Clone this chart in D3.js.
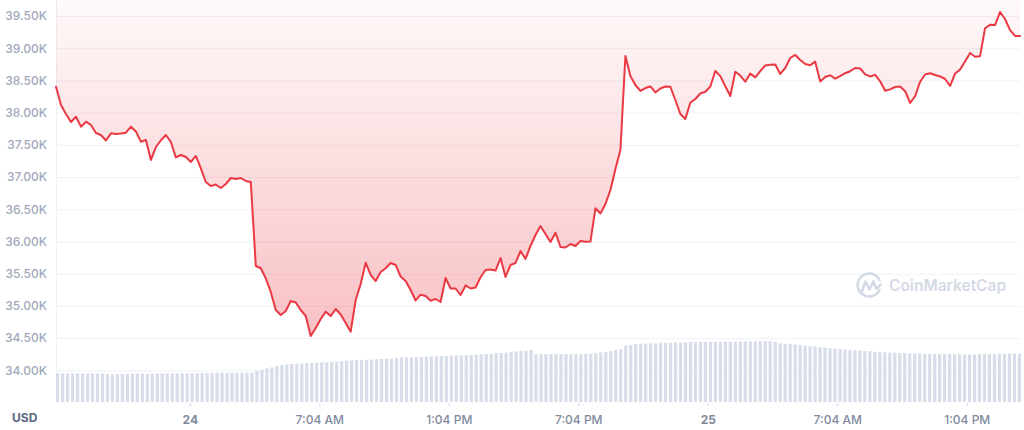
<!DOCTYPE html>
<html>
<head>
<meta charset="utf-8">
<script src="https://cdn.jsdelivr.net/npm/d3@7"></script>
<style>
  html, body { margin: 0; padding: 0; background: #ffffff; }
  svg { display: block; font-family: Inter, "Noto Sans", sans-serif; }
</style>
</head>
<body>
<svg id="chart" width="1024" height="430"></svg>
<script>
// ---- data ----
const startTime = "2022-01-23T18:52:00Z";
const endTime = "2022-01-25T15:32:00Z";

const prices = [
  38402, 38118, 37979, 37855, 37937, 37782, 37859, 37808, 37684, 37653,
  37567, 37679, 37668, 37676, 37689, 37782, 37707, 37549, 37575, 37265,
  37466, 37571, 37653, 37544, 37304, 37342, 37311, 37234, 37327, 37136,
  36923, 36861, 36884, 36830, 36892, 36985, 36970, 36985, 36939, 36923,
  35619, 35584, 35428, 35216, 34936, 34859, 34921, 35076, 35053, 34936,
  34843, 34533, 34657, 34797, 34910, 34843, 34952, 34866, 34734, 34599,
  35091, 35340, 35670, 35480, 35386, 35526, 35584, 35666, 35635, 35456,
  35386, 35247, 35084, 35174, 35154, 35081, 35107, 35060, 35433, 35270,
  35270, 35169, 35317, 35270, 35286, 35444, 35557, 35565, 35549, 35743,
  35449, 35635, 35666, 35852, 35728, 35930, 36100, 36240, 36116, 35992,
  36136, 35914, 35906, 35961, 35930, 36007, 35996, 35999, 36515, 36434,
  36582, 36799, 37125, 37420, 38879, 38569, 38429, 38336, 38382, 38406,
  38313, 38375, 38406, 38402, 38196, 37979, 37901, 38157, 38212, 38297,
  38325, 38406, 38646, 38566, 38409, 38258, 38635, 38576, 38480, 38606,
  38548, 38646, 38732, 38742, 38747, 38600, 38693, 38848, 38895, 38817,
  38755, 38735, 38791, 38483, 38553, 38580, 38527, 38566, 38612, 38643,
  38693, 38685, 38595, 38562, 38586, 38486, 38340, 38361, 38398, 38407,
  38333, 38150, 38254, 38480, 38592, 38611, 38584, 38562, 38522, 38413,
  38607, 38668, 38794, 38926, 38868, 38876, 39309, 39363, 39360, 39562,
  39453, 39280, 39190, 39190
];

// 24h volume, billions USD
const volumes = [
  19.1, 19.1, 19.0, 19.1, 19.1, 19.0, 19.1, 19.1, 19.0, 18.9,
  18.6, 18.5, 18.6, 18.7, 18.8, 18.9, 18.9, 18.9, 18.8, 18.9,
  19.0, 19.0, 19.1, 19.0, 19.1, 19.2, 19.2, 19.2, 19.3, 19.3,
  19.4, 19.4, 19.5, 19.5, 19.4, 19.5, 19.5, 19.5, 19.4, 19.5,
  20.8, 21.4, 22.4, 23.1, 24.0, 24.7, 25.0, 25.3, 25.5, 25.7,
  25.9, 26.0, 26.2, 26.3, 26.5, 26.7, 27.0, 27.3, 27.5, 27.7,
  27.9, 28.0, 28.2, 28.3, 28.5, 28.7, 28.8, 29.0, 29.4, 29.7,
  29.8, 29.9, 30.0, 30.0, 30.2, 30.4, 30.5, 30.7, 30.8, 30.9,
  31.0, 31.0, 31.2, 31.4, 31.6, 31.7, 32.0, 32.2, 32.5, 32.7,
  33.0, 33.3, 33.7, 34.0, 34.3, 34.8, 32.0, 32.0, 31.9, 32.0,
  32.0, 32.0, 31.9, 32.0, 32.0, 32.0, 32.1, 32.2, 32.7, 33.0,
  33.3, 34.0, 34.7, 35.3, 37.5, 38.0, 38.5, 38.7, 38.9, 39.0,
  39.2, 39.3, 39.4, 39.5, 39.6, 39.7, 39.8, 39.9, 40.0, 40.0,
  40.0, 40.0, 40.1, 40.1, 40.2, 40.2, 40.3, 40.3, 40.4, 40.5,
  40.5, 40.6, 40.7, 40.6, 40.0, 39.3, 38.9, 38.6, 38.3, 38.0,
  37.6, 37.3, 37.0, 36.6, 36.3, 36.0, 35.6, 35.3, 35.0, 34.8,
  34.5, 34.3, 34.0, 33.8, 33.5, 33.3, 33.1, 33.0, 32.8, 32.7,
  32.6, 32.5, 32.4, 32.3, 32.2, 32.1, 32.0, 32.0, 31.9, 31.9,
  31.8, 31.8, 31.7, 31.7, 31.7, 31.8, 31.9, 32.0, 32.1, 32.3,
  32.3, 32.3, 32.3, 32.3
];

const yTicks = [34000, 34500, 35000, 35500, 36000, 36500, 37000, 37500, 38000, 38500, 39000, 39500];
const xTickTimes = [
  "2022-01-24T01:04:00Z", "2022-01-24T07:04:00Z", "2022-01-24T13:04:00Z",
  "2022-01-24T19:04:00Z", "2022-01-25T01:04:00Z", "2022-01-25T07:04:00Z",
  "2022-01-25T13:04:00Z"
];
const xTickLabels = ["24", "7:04 AM", "1:04 PM", "7:04 PM", "25", "7:04 AM", "1:04 PM"];
const dayLabels = ["24", "25"];

// ---- layout ----
const plotLeft = 56, plotRight = 1020;
const plotTop = 16, priceBottom = 370.3;
const volBottom = 402;

const svg = d3.select("#chart");
const t0 = new Date(startTime), t1 = new Date(endTime);
const n = prices.length;
const times = prices.map((_, i) => new Date(+t0 + (t1 - t0) * i / (n - 1)));
const rows = prices.map((p, i) => ({ t: times[i], p, v: volumes[i], i }));

const x = d3.scaleUtc().domain([t0, t1]).range([plotLeft, plotRight]);
const y = d3.scaleLinear().domain([34000, 39500]).range([priceBottom, plotTop]);
const yv = d3.scaleLinear().domain([0, 42]).range([volBottom, volBottom - 63]);
const xb = d3.scaleBand().domain(d3.range(n)).range([plotLeft, plotRight + 1]).paddingInner(0.35).paddingOuter(0);

// gradient
const defs = svg.append("defs");
const grad = defs.append("linearGradient").attr("id", "fillGrad")
  .attr("gradientUnits", "userSpaceOnUse").attr("x1", 0).attr("y1", 0).attr("x2", 0).attr("y2", 345);
grad.append("stop").attr("offset", "0%").attr("stop-color", "#ea3943").attr("stop-opacity", 0.03);
grad.append("stop").attr("offset", "100%").attr("stop-color", "#ea3943").attr("stop-opacity", 0.32);

// grid lines via axis
const gridAxis = d3.axisRight(y).tickValues(yTicks).tickSize(plotRight - plotLeft).tickFormat("");
const grid = svg.append("g").attr("transform", `translate(${plotLeft},0)`).call(gridAxis);
grid.select(".domain").remove();
grid.selectAll("line").attr("stroke", "#eff2f5").attr("stroke-width", 1);

// left vertical border
svg.append("line").attr("x1", plotLeft + 0.5).attr("x2", plotLeft + 0.5).attr("y1", 0).attr("y2", volBottom)
  .attr("stroke", "#eff2f5");

// area fill (between top and the line)
const area = d3.area().x(d => x(d.t)).y0(0).y1(d => y(d.p));
svg.append("path").datum(rows).attr("d", area).attr("fill", "url(#fillGrad)");

// watermark
const wm = svg.append("g").attr("fill", "none");
wm.append("path")
  .attr("d", "M879.5 290 A11.5 11.5 0 1 1 879.5 280")
  .attr("stroke", "#d3d9e5").attr("stroke-width", 2.6).attr("stroke-linecap", "round");
wm.append("path")
  .attr("d", "M862 291 L865.5 281.5 L869.5 289.5 L873.5 281.5 L876.5 289 L880.5 284.5")
  .attr("stroke", "#d3d9e5").attr("stroke-width", 2.6).attr("stroke-linecap", "round").attr("stroke-linejoin", "round");
svg.append("text").attr("x", 889).attr("y", 291).attr("fill", "#d3d9e5")
  .attr("font-size", 15.5).attr("font-weight", 600).text("CoinMarketCap");

// volume bars
svg.append("g").selectAll("rect").data(rows).join("rect")
  .attr("x", d => xb(d.i)).attr("width", xb.bandwidth())
  .attr("y", d => yv(d.v)).attr("height", d => volBottom - yv(d.v))
  .attr("fill", "#d8dee9");

// price line
const line = d3.line().x(d => x(d.t)).y(d => y(d.p));
svg.append("path").datum(rows).attr("d", line)
  .attr("fill", "none").attr("stroke", "#ea3943").attr("stroke-width", 2)
  .attr("stroke-linejoin", "round").attr("stroke-linecap", "round");

// y axis labels
const yAxis = d3.axisLeft(y).tickValues(yTicks).tickSize(0).tickPadding(0)
  .tickFormat(v => (v / 1000).toFixed(2) + "K");
const ya = svg.append("g").attr("transform", `translate(47,0)`).call(yAxis);
ya.select(".domain").remove();
ya.selectAll("text").attr("fill", "#a0a9bb").attr("font-size", 12)
  .attr("font-family", "Inter, 'Noto Sans', sans-serif").attr("font-weight", 500);

// x axis
const xAxis = d3.axisBottom(x).tickValues(xTickTimes.map(s => new Date(s)))
  .tickSize(3).tickPadding(9).tickFormat((d, i) => xTickLabels[i]);
const xa = svg.append("g").attr("transform", `translate(0,${volBottom + 1})`).call(xAxis);
xa.select(".domain").remove();
xa.selectAll("line").attr("stroke", "#cfd6e3");
xa.selectAll("text").attr("font-size", 12).attr("font-family", "Inter, 'Noto Sans', sans-serif")
  .attr("fill", "#808a9d")
  .attr("font-weight", (d, i) => dayLabels.includes(xTickLabels[i]) ? 700 : 500);

// currency label
svg.append("text").attr("x", 12).attr("y", 422).attr("fill", "#58667e")
  .attr("font-size", 12).attr("font-weight", 700).text("USD");
</script>
</body>
</html>
